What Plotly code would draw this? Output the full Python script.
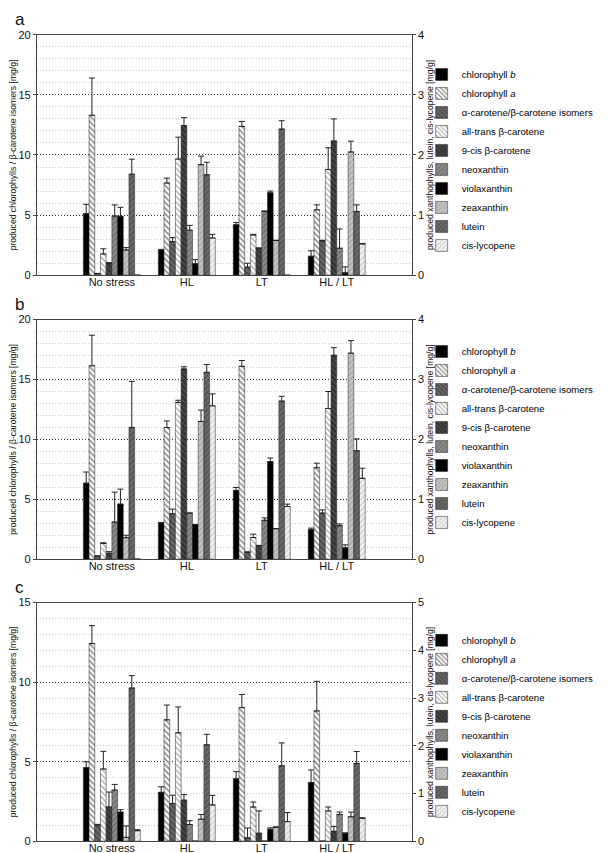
import plotly.graph_objects as go

categories = ["No stress", "HL", "LT", "HL / LT"]
series_names = [
    "chlorophyll <i>b</i>", "chlorophyll <i>a</i>", "α-carotene/β-carotene isomers",
    "all-trans β-carotene", "9-cis β-carotene", "neoxanthin", "violaxanthin",
    "zeaxanthin", "lutein", "cis-lycopene",
]
panel_labels = ["a", "b", "c"]
left_title = "produced chlorophylls / β-carotene isomers [mg/g]"
right_title = "produced xanthophylls, lutein, cis-lycopene [mg/g]"
left_max = [20, 20, 15]
right_max = [4, 4, 5]

# ---- panel a (first five on left axis, last five on right axis) ----
a_chl_b = [5.12, 2.10, 4.19, 1.58];      a_chl_b_err = [0.78, 0.05, 0.19, 0.46]
a_chl_a = [13.3, 7.67, 12.38, 5.44];     a_chl_a_err = [3.10, 0.41, 0.41, 0.41]
a_acar = [0.15, 2.80, 0.68, 2.86];       a_acar_err = [0.0, 0.33, 0.32, 0.05]
a_trans = [1.77, 9.66, 3.35, 8.79];      a_trans_err = [0.43, 1.82, 0.05, 1.81]
a_cis9 = [1.03, 12.44, 2.26, 11.16];     a_cis9_err = [0.0, 0.66, 0.0, 1.84]
a_neox = [0.985, 0.75, 1.06, 0.45];      a_neox_err = [0.185, 0.08, 0.01, 0.32]
a_viol = [0.98, 0.19, 1.37, 0.04];       a_viol_err = [0.15, 0.07, 0.03, 0.10]
a_zea = [0.42, 1.84, 0.58, 2.05];        a_zea_err = [0.04, 0.14, 0.0, 0.18]
a_lut = [1.68, 1.67, 2.43, 1.06];        a_lut_err = [0.25, 0.21, 0.14, 0.11]
a_lyc = [0.0, 0.62, 0.0, 0.52];          a_lyc_err = [0.0, 0.06, 0.0, 0.01]

# ---- panel b ----
b_chl_b = [6.35, 3.02, 5.74, 2.47];      b_chl_b_err = [0.93, 0.05, 0.25, 0.13]
b_chl_a = [16.15, 10.99, 16.1, 7.64];    b_chl_a_err = [2.55, 0.55, 0.49, 0.38]
b_acar = [0.27, 3.79, 0.60, 3.85];       b_acar_err = [0.0, 0.39, 0.0, 0.27]
b_trans = [1.32, 13.08, 1.81, 12.58];    b_trans_err = [0.05, 0.19, 0.28, 1.42]
b_cis9 = [0.50, 15.88, 1.15, 17.03];     b_cis9_err = [0.13, 0.19, 0.0, 0.63]
b_neox = [0.62, 0.77, 0.65, 0.56];       b_neox_err = [0.50, 0.0, 0.04, 0.03]
b_viol = [0.92, 0.58, 1.63, 0.19];       b_viol_err = [0.25, 0.0, 0.06, 0.05]
b_zea = [0.36, 2.30, 0.51, 3.44];        b_zea_err = [0.04, 0.19, 0.0, 0.21]
b_lut = [2.20, 3.12, 2.64, 1.81];        b_lut_err = [0.77, 0.13, 0.08, 0.20]
b_lyc = [0.0, 2.56, 0.88, 1.35];         b_lyc_err = [0.0, 0.20, 0.04, 0.17]

# ---- panel c ----
c_chl_b = [4.62, 3.07, 3.92, 3.69];      c_chl_b_err = [0.37, 0.35, 0.45, 0.79]
c_chl_a = [12.42, 7.63, 8.40, 8.19];     c_chl_a_err = [1.13, 0.93, 0.82, 1.86]
c_acar = [1.01, 2.37, 0.21, 0.0];        c_acar_err = [0.05, 0.52, 0.62, 0.0]
c_trans = [4.54, 6.81, 2.15, 1.90];      c_trans_err = [1.11, 1.63, 0.31, 0.25]
c_cis9 = [2.15, 2.58, 0.50, 0.62];       c_cis9_err = [0.94, 0.35, 1.40, 0.31]
c_neox = [1.07, 0.35, 0.0, 0.56];        c_neox_err = [0.12, 0.08, 0.0, 0.05]
c_viol = [0.61, 0.0, 0.25, 0.17];        c_viol_err = [0.05, 0.0, 0.03, 0.0]
c_zea = [0.08, 0.46, 0.29, 0.51];        c_zea_err = [0.24, 0.10, 0.01, 0.10]
c_lut = [3.21, 2.02, 1.58, 1.63];        c_lut_err = [0.26, 0.22, 0.48, 0.25]
c_lyc = [0.22, 0.76, 0.41, 0.48];        c_lyc_err = [0.02, 0.20, 0.19, 0.01]

panels = [
    ([a_chl_b, a_chl_a, a_acar, a_trans, a_cis9, a_neox, a_viol, a_zea, a_lut, a_lyc],
     [a_chl_b_err, a_chl_a_err, a_acar_err, a_trans_err, a_cis9_err, a_neox_err, a_viol_err, a_zea_err, a_lut_err, a_lyc_err]),
    ([b_chl_b, b_chl_a, b_acar, b_trans, b_cis9, b_neox, b_viol, b_zea, b_lut, b_lyc],
     [b_chl_b_err, b_chl_a_err, b_acar_err, b_trans_err, b_cis9_err, b_neox_err, b_viol_err, b_zea_err, b_lut_err, b_lyc_err]),
    ([c_chl_b, c_chl_a, c_acar, c_trans, c_cis9, c_neox, c_viol, c_zea, c_lut, c_lyc],
     [c_chl_b_err, c_chl_a_err, c_acar_err, c_trans_err, c_cis9_err, c_neox_err, c_viol_err, c_zea_err, c_lut_err, c_lyc_err]),
]

# styles (color, pattern)
styles = [
    ("#000000", None),
    ("#ffffff", dict(shape="\\", fgcolor="#222222", bgcolor="#ffffff", size=4, solidity=0.45)),
    ("#666666", dict(shape="\\", fgcolor="#222222", bgcolor="#6a6a6a", size=4, solidity=0.4)),
    ("#ffffff", dict(shape="\\", fgcolor="#555555", bgcolor="#ffffff", size=4, solidity=0.35)),
    ("#444444", dict(shape="\\", fgcolor="#111111", bgcolor="#474747", size=4, solidity=0.4)),
    ("#888888", dict(shape="/", fgcolor="#4a4a4a", bgcolor="#8c8c8c", size=4, solidity=0.35)),
    ("#000000", None),
    ("#bbbbbb", dict(shape="/", fgcolor="#888888", bgcolor="#c4c4c4", size=4, solidity=0.35)),
    ("#666666", dict(shape="/", fgcolor="#333333", bgcolor="#6a6a6a", size=4, solidity=0.35)),
    ("#eeeeee", dict(shape="/", fgcolor="#aaaaaa", bgcolor="#f2f2f2", size=4, solidity=0.35)),
]

W, H = 609, 853
FONT = "Liberation Sans, Arial, sans-serif"
x_dom = [27 / W, 403 / W]
y_px = [(21, 265), (310, 553), (597, 839)]
legend_centers = [148, 429, 722]

fig = go.Figure()
layout = dict(
    width=W, height=H, margin=dict(l=0, r=0, t=0, b=0),
    paper_bgcolor="white", plot_bgcolor="white",
    barmode="group", bargap=0.24, bargroupgap=0,
    font=dict(family=FONT, color="#111111", size=11),
    annotations=[],
)

for p, (vals, errs) in enumerate(panels):
    xa = "x" if p == 0 else f"x{p + 1}"
    yl = "y" if p == 0 else f"y{2 * p + 1}"
    yr = f"y{2 * p + 2}"
    leg = "legend" if p == 0 else f"legend{p + 1}"
    for s in range(10):
        color, pattern = styles[s]
        marker = dict(color=color, line=dict(color="#222222", width=0.5))
        if pattern:
            marker["pattern"] = pattern
        fig.add_trace(go.Bar(
            x=categories, y=vals[s], name=series_names[s],
            xaxis=xa, yaxis=yl if s < 5 else yr,
            marker=marker, legend=leg,
            offsetgroup=str(s), alignmentgroup=f"panel{p}",
            error_y=dict(type="data", symmetric=False, array=errs[s],
                         arrayminus=[0] * len(errs[s]), color="#222222",
                         thickness=1, width=3),
        ))
    top, bot = y_px[p]
    ydom = [1 - bot / H, 1 - top / H]
    xkey = "xaxis" if p == 0 else f"xaxis{p + 1}"
    ylkey = "yaxis" if p == 0 else f"yaxis{2 * p + 1}"
    yrkey = f"yaxis{2 * p + 2}"
    layout[xkey] = dict(
        domain=x_dom, anchor=yl, type="category", categoryorder="array",
        categoryarray=categories, range=[-1, 4], showline=True, mirror=True,
        linecolor="#444444", linewidth=1, ticks="", showgrid=False,
        ticklabelstandoff=-3,
        tickfont=dict(size=11, color="#111111"), fixedrange=True,
    )
    layout[ylkey] = dict(
        domain=ydom, anchor=xa, range=[0, left_max[p]], dtick=5, tick0=0,
        showline=True, linecolor="#444444", linewidth=1, ticks="outside", ticklen=3,
        tickcolor="#444444", showgrid=True, gridcolor="#333333", griddash="1px,2px",
        gridwidth=1, zeroline=False, tickfont=dict(size=11),
        minor=dict(dtick=1, tick0=0, showgrid=True, gridcolor="#c8c8c8",
                   griddash="1px,2px", gridwidth=1, ticks=""),
        title=dict(text=left_title, font=dict(size=8.6), standoff=4),
    )
    layout[yrkey] = dict(
        overlaying=yl, side="right", anchor=xa, range=[0, right_max[p]], dtick=1,
        tick0=0, showline=True, linecolor="#444444", linewidth=1, ticks="outside",
        ticklen=3, tickcolor="#444444", showgrid=False, zeroline=False,
        tickfont=dict(size=11),
        title=dict(text=right_title, font=dict(size=8.6), standoff=3),
    )
    layout[leg] = dict(
        x=413 / W, xanchor="left", y=1 - legend_centers[p] / H, yanchor="middle",
        font=dict(size=9.6, color="#000000"), bgcolor="rgba(0,0,0,0)",
        tracegroupgap=0, traceorder="normal",
    )
    layout["annotations"].append(dict(
        text=panel_labels[p], xref="paper", yref="paper", x=3 / W,
        y=1 - (top - 15) / H, xanchor="left", yanchor="middle",
        showarrow=False, font=dict(size=17, color="#111111"),
    ))

fig.update_layout(**layout)
fig.write_html("out.html")
